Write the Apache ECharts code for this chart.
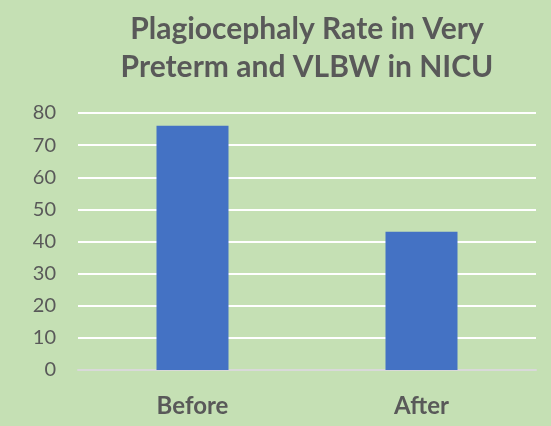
<!DOCTYPE html>
<html>
<head>
<meta charset="utf-8">
<script src="https://cdn.jsdelivr.net/npm/echarts@6/dist/echarts.min.js"></script>
<style>
html,body{margin:0;padding:0;background:#C5E0B4;}
#main{width:551px;height:426px;}
</style>
</head>
<body>
<div id="main"></div>
<script>
var titleText = "Plagiocephaly Rate in Very\nPreterm and VLBW in NICU";
var categories = ["Before", "After"];
var values = [76, 43];
var yMin = 0, yMax = 80, yInterval = 10;

var chart = echarts.init(document.getElementById('main'));
chart.setOption({
  backgroundColor: '#C5E0B4',
  animation: false,
  title: {
    text: titleText,
    left: 302,
    textAlign: 'center',
    top: 5,
    textStyle: {
      fontFamily: 'Lato',
      fontWeight: 'bold',
      fontSize: 30,
      lineHeight: 38,
      color: '#595959'
    }
  },
  grid: { left: 78, right: 15, top: 113, bottom: 56 },
  xAxis: {
    type: 'category',
    data: categories,
    axisLine: { lineStyle: { color: '#D9D9D9', width: 2 } },
    axisTick: { show: false },
    axisLabel: {
      margin: 24,
      fontFamily: 'Lato',
      fontWeight: 'bold',
      fontSize: 24,
      color: '#595959'
    }
  },
  yAxis: {
    type: 'value',
    min: yMin, max: yMax, interval: yInterval,
    axisLine: { show: false },
    axisTick: { show: false },
    splitLine: { lineStyle: { color: '#FFFFFF', width: 2 } },
    axisLabel: {
      margin: 22,
      fontFamily: 'Lato',
      fontSize: 20,
      color: '#595959'
    }
  },
  series: [{
    type: 'bar',
    data: values,
    barWidth: 72,
    itemStyle: { color: '#4472C4' }
  }]
});
</script>
</body>
</html>
